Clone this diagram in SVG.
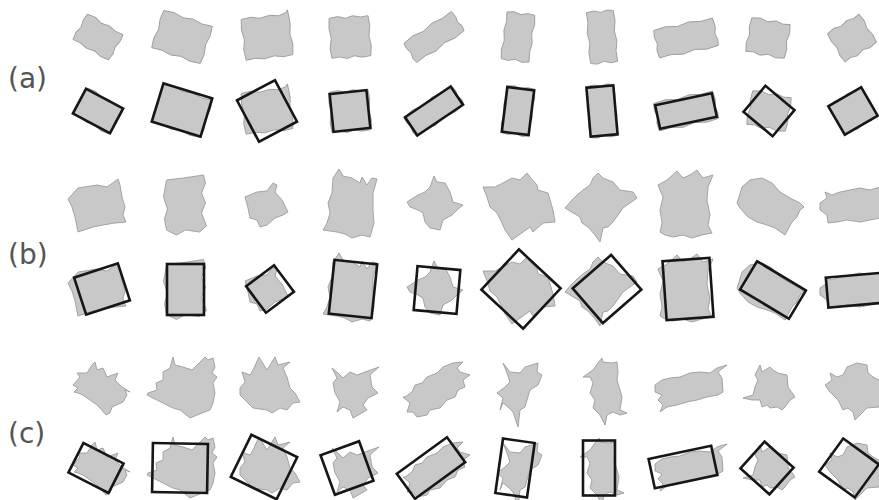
<svg xmlns="http://www.w3.org/2000/svg" width="879" height="500" viewBox="0 0 879 500">
<style>
.g{fill:#c8c8c8;stroke:#9c9c9c;stroke-width:0.9;stroke-linejoin:round}
.r{fill:none;stroke:#161616;stroke-width:2.6}
.lbl{font-family:"DejaVu Sans",sans-serif;font-size:28px;fill:#555}
</style>
<defs>
<polygon id="sa1" transform="rotate(30)" points="-20.5,-14.5 -12,-15.8 -4,-13.6 4,-15.2 12,-13.8 20.5,-14.5 21.3,-7 19.8,0 21.5,7 20.5,14.5 12,15.6 4,13.8 -4,15.5 -12,13.9 -20.5,14.5 -21.5,7 -19.6,0 -21.2,-7"/>
<polygon id="sa2" transform="rotate(18)" points="-25.5,-19.5 -15,-20.8 -5,-18.6 5,-20.4 15,-18.5 25.5,-19.5 26.4,-10 24.8,0 26.5,10 25.5,19.5 15,20.6 5,18.7 -5,20.6 -15,18.8 -25.5,19.5 -26.5,10 -24.6,0 -26.3,-10"/>
<polygon id="sa3" transform="rotate(-7)" points="-23.5,-20.5 -14,-21.6 -5,-19.5 5,-21.2 14,-19.7 22,-22 23.5,-24.5 24,-20.5 24.6,-10 23,0 24.8,10 23.5,20.5 14,21.6 5,19.6 -5,21.4 -14,19.8 -23.5,20.5 -24.6,10 -22.8,0 -24.4,-10"/>
<polygon id="sa4" transform="rotate(-4)" points="-19.5,-20 -11,-21.2 -3,-19 4,-21 12,-19.3 19.5,-20 20.5,-10 19,0 20.6,10 19.5,20 11,21 3,19 -4,21.2 -12,19.2 -19.5,20 -20.6,10 -18.8,0 -20.4,-10"/>
<polygon id="sa5" transform="rotate(-34)" points="-28.5,-11.5 -17,-12.8 -6,-10.6 6,-12.6 17,-10.8 28.5,-11.5 29.4,-5 27.8,1 29.5,6 28.5,11.5 17,12.6 6,10.6 -6,12.8 -17,10.7 -28.5,11.5 -29.5,6 -27.8,0 -29.3,-6"/>
<polygon id="sa6" transform="rotate(7)" points="-14,-23.5 -7,-24.6 0,-22.6 7,-24.4 14,-23.5 15,-14 13.2,-5 14.8,5 13.3,14 14,23.5 7,24.7 0,22.5 -7,24.4 -14,23.5 -15,14 -13.2,5 -14.8,-5 -13.2,-14"/>
<polygon id="sa7" transform="rotate(-5)" points="-13.5,-25.5 -6,-26.6 1,-24.6 7,-26.4 13.5,-25.5 14.4,-15 12.8,-5 14.5,5 12.8,15 13.5,25.5 7,26.5 0,24.4 -7,26.6 -13.5,25.5 -14.5,15 -12.7,5 -14.4,-5 -12.8,-15"/>
<polygon id="sa8" transform="rotate(-12)" points="-30,-14 -18,-15.3 -6,-13 6,-15.2 18,-13.2 30,-14 31,-5 29.2,2 30.8,8 30,14 18,15.2 6,13 -6,15.3 -18,13.1 -30,14 -31,6 -29.2,0 -30.8,-7"/>
<polygon id="sa9" transform="rotate(10)" points="-19.5,-17 -11,-18.3 -3,-16 5,-18.2 12,-16.2 19.5,-17 20.5,-8 18.8,0 20.4,8 19.5,17 11,18.2 3,16 -5,18.3 -12,16.2 -19.5,17 -20.6,8 -18.8,0 -20.3,-8"/>
<polygon id="sa10" transform="rotate(-32)" points="-18.5,-16.5 -10,-17.8 -3,-15.6 5,-17.6 12,-15.7 18.5,-16.5 19.5,-8 17.8,0 19.4,8 18.5,16.5 10,17.7 3,15.6 -5,17.8 -12,15.6 -18.5,16.5 -19.5,8 -17.8,0 -19.3,-8"/>

<polygon id="sb1" points="-34,-6 -24,-17 -5,-20 5,-18 16,-26 18,-20 20,-8 23,2 21,10 24,17 13,18 1,20 -9,22 -24,27 -27,12 -30,2"/>
<polygon id="sb2" points="-19,-25 -2,-27 18,-30 20,-22 16,-12 20,-2 16,8 21,21 14,27 0,25 -9,30 -19,25 -21,14 -18,4 -22,-8"/>
<polygon id="sb3" points="-25,-8 -13,-13 -3,-14 3,-22 7,-20 5,-13 12,-5 18,7 13,10 5,13 -3,20 -10,22 -13,15 -20,13 -22,3"/>
<polygon id="sb4" points="-20,-27 -14,-36 -10,-29 -1,-27 7,-22 9,-28 14,-20 19,-27 24,-26 20,-12 20,5 21,18 17,32 9,30 -1,33 -8,29 -16,27 -30,25 -26,18 -23,8 -25,-2 -21,-12"/>
<polygon id="sb5" points="-30,-3 -19,-10 -12,-13 -7,-18 -3,-29 0,-23 8,-22 13,-13 16,-3 26,0 20,5 15,10 6,15 3,25 -7,23 -12,17 -14,8 -19,5 -27,2"/>
<polygon id="sb6" points="-38,-18 -26,-18 -18,-22 -9,-27 -1,-25 6,-32 9,-28 16,-20 17,-15 27,-12 32,5 34,17 22,18 12,27 9,22 2,27 -9,35 -16,25 -19,18 -24,8 -31,2 -34,-8"/>
<polygon id="sb7" points="-8,-32 -3,-27 7,-23 14,-15 27,-13 31,-7 24,-2 17,3 12,10 7,17 2,22 -3,23 -6,37 -11,30 -18,22 -24,18 -26,12 -41,3 -34,-5 -29,-10 -23,-15 -16,-20 -13,-27"/>
<polygon id="sb8" points="-30,-20 -21,-25 -11,-34 -5,-27 2,-30 9,-35 15,-27 25,-30 20,-18 19,-5 22,10 20,20 24,28 14,30 4,33 -5,30 -15,32 -23,30 -28,27 -26,18 -28,5 -25,-8"/>
<polygon id="sb9" points="-31,-18 -23,-25 -11,-27 -1,-22 7,-13 17,-7 27,-2 31,2 27,5 24,12 19,17 12,30 2,23 -6,20 -16,17 -25,12 -33,3 -36,-2 -34,-8"/>
<polygon id="sb10" points="-37,-2 -30,-7 -32,-13 -25,-10 -17,-13 -7,-15 3,-17 13,-15 23,-18 30,-15 32,15 23,13 13,15 3,17 -10,15 -20,17 -29,18 -30,10 -37,5"/>

<polygon id="sc1" points="-23,-3 -16,-11 -19,-15 -9,-15 -4,-23 -1,-26 1,-18 7,-20 11,-11 22,-15 19,-8 26,-1 34,4 29,2 31,7 27,14 16,19 14,25 10,27 4,20 1,17 -6,12 -13,7 -18,5 -22,4 -18,0"/>
<polygon id="sc2" points="-32,5 -23,2 -24,-5 -17,-8 -17,-16 -10,-20 -7,-31 -5,-23 3,-21 12,-18 20,-26 25,-31 28,-28 33,-30 35,-21 32,-15 37,-11 33,-5 35,5 33,15 30,22 22,25 10,30 0,22 -7,20 -13,17 -23,12 -33,7"/>
<polygon id="sc3" points="-24,1 -19,-5 -22,-15 -14,-12 -11,-17 -5,-30 3,-17 11,-30 14,-22 26,-25 19,-19 23,-10 26,1 31,6 36,15 29,16 23,23 16,21 8,26 3,23 -11,21 -17,15 -24,8"/>
<polygon id="sc4" points="-15,-20 -9,-15 -4,-10 3,-16 10,-13 18,-16 32,-21 23,-13 25,-1 31,5 21,10 16,17 20,22 6,30 3,22 -4,19 -10,24 -7,14 -12,5 -14,-5 -10,-10"/>
<polygon id="sc5" points="-26,9 -19,4 -16,-3 -9,-5 -4,-11 6,-15 12,-21 22,-25 32,-26 26,-20 29,-16 39,-13 32,-8 34,-1 27,2 24,9 16,12 9,20 -1,22 -4,27 -14,29 -18,24 -24,24 -21,15 -28,9"/>
<polygon id="sc6" points="-12,-25 -5,-16 5,-15 10,-21 23,-25 22,-16 27,-13 23,-3 15,2 12,12 10,19 5,22 3,39 -2,24 -7,19 -12,15 -15,22 -12,10 -18,5 -10,-1 -5,-6 -8,-15"/>
<polygon id="sc7" points="0,-30 1,-26 10,-25 15,-26 16,-16 15,-8 18,2 20,9 18,22 25,25 18,27 11,24 5,27 3,37 -2,27 -9,20 -7,12 -12,5 -9,-5 -12,-11 -19,-11 -9,-18 -4,-25"/>
<polygon id="sc8" points="-28,-3 -21,-8 -13,-10 -3,-11 7,-15 17,-16 27,-15 34,-20 44,-23 35,-16 39,-10 40,4 35,7 24,9 14,12 4,14 -6,17 -16,19 -23,24 -20,17 -25,12 -21,7 -28,4"/>
<polygon id="sc9" points="-7,-23 -5,-16 3,-21 6,-18 11,-15 20,-13 21,-1 28,9 23,12 18,19 15,22 10,19 3,20 0,17 -5,19 -7,12 -15,12 -24,10 -14,7 -12,-1 -9,-8 -12,-13"/>
<polygon id="sc10" points="-19,-15 -12,-11 -6,-13 -2,-21 8,-25 18,-23 19,-15 24,-11 30,-8 33,2 30,19 18,20 13,25 6,32 4,24 -1,20 -6,22 -11,12 -16,7 -19,4 -24,-3 -21,-5 -17,-8"/>
</defs>

<rect width="879" height="500" fill="#fff"/>

<g id="labels">
<text class="lbl" x="8" y="88">(a)</text>
<text class="lbl" x="8" y="264">(b)</text>
<text class="lbl" x="8" y="443">(c)</text>
</g>

<g id="a1"><use class="g" href="#sa1" x="98" y="37"/><use class="g" href="#sa1" x="98" y="111"/><rect class="r" x="-21" y="-14" width="42" height="28" transform="translate(98,111) rotate(28)"/></g>
<g id="a2"><use class="g" href="#sa2" x="182" y="37"/><use class="g" href="#sa2" x="182" y="111"/><rect class="r" x="-25.5" y="-20" width="51" height="40" transform="translate(182,110) rotate(17)"/></g>
<g id="a3"><use class="g" href="#sa3" x="267" y="37"/><use class="g" href="#sa3" x="267" y="111"/><rect class="r" x="-21.5" y="-23.5" width="43" height="47" transform="translate(267,111) rotate(-28)"/></g>
<g id="a4"><use class="g" href="#sa4" x="350" y="37"/><use class="g" href="#sa4" x="350" y="111"/><rect class="r" x="-18.5" y="-19" width="37" height="38" transform="translate(350,111) rotate(-6)"/></g>
<g id="a5"><use class="g" href="#sa5" x="434" y="37"/><use class="g" href="#sa5" x="434" y="111"/><rect class="r" x="-27.5" y="-11" width="55" height="22" transform="translate(434,111) rotate(-34)"/></g>
<g id="a6"><use class="g" href="#sa6" x="518" y="37"/><use class="g" href="#sa6" x="518" y="111"/><rect class="r" x="-13.5" y="-22.5" width="27" height="45" transform="translate(518,111) rotate(7)"/></g>
<g id="a7"><use class="g" href="#sa7" x="602" y="37"/><use class="g" href="#sa7" x="602" y="111"/><rect class="r" x="-13.5" y="-24.5" width="27" height="49" transform="translate(602,111) rotate(-5)"/></g>
<g id="a8"><use class="g" href="#sa8" x="686" y="38"/><use class="g" href="#sa8" x="686" y="111"/><rect class="r" x="-29" y="-12" width="58" height="24" transform="translate(686,111) rotate(-12)"/></g>
<g id="a9"><use class="g" href="#sa9" x="768" y="38"/><use class="g" href="#sa9" x="769" y="111"/><rect class="r" x="-19" y="-17" width="38" height="34" transform="translate(769,111) rotate(40)"/></g>
<g id="a10"><use class="g" href="#sa10" x="852" y="38"/><use class="g" href="#sa10" x="853" y="111"/><rect class="r" x="-19" y="-16.5" width="38" height="33" transform="translate(853,111) rotate(-30)"/></g>

<g id="b1"><use class="g" href="#sb1" x="102" y="205"/><use class="g" href="#sb1" x="102" y="289"/><rect class="r" x="-23" y="-19.5" width="46" height="39" transform="translate(102,289) rotate(-18)"/></g>
<g id="b2"><use class="g" href="#sb2" x="185.5" y="205"/><use class="g" href="#sb2" x="185.5" y="289.5"/><rect class="r" x="-18.5" y="-25.5" width="37" height="51" transform="translate(185.5,289.5)"/></g>
<g id="b3"><use class="g" href="#sb3" x="270" y="205"/><use class="g" href="#sb3" x="270" y="289"/><rect class="r" x="-17.5" y="-16.5" width="35" height="33" transform="translate(270,289) rotate(-37)"/></g>
<g id="b4"><use class="g" href="#sb4" x="353" y="205"/><use class="g" href="#sb4" x="353" y="289"/><rect class="r" x="-21.5" y="-27" width="43" height="54" transform="translate(353,289) rotate(6)"/></g>
<g id="b5"><use class="g" href="#sb5" x="437" y="205"/><use class="g" href="#sb5" x="437" y="290"/><rect class="r" x="-21.5" y="-22" width="43" height="44" transform="translate(437,290) rotate(5)"/></g>
<g id="b6"><use class="g" href="#sb6" x="521" y="205"/><use class="g" href="#sb6" x="521" y="289"/><rect class="r" x="-28.5" y="-27.5" width="57" height="55" transform="translate(521,289) rotate(43)"/></g>
<g id="b7"><use class="g" href="#sb7" x="606" y="205"/><use class="g" href="#sb7" x="606" y="289"/><rect class="r" x="-23" y="-25.5" width="46" height="51" transform="translate(607,289) rotate(49)"/></g>
<g id="b8"><use class="g" href="#sb8" x="688" y="205"/><use class="g" href="#sb8" x="688" y="289"/><rect class="r" x="-23.5" y="-29.5" width="47" height="59" transform="translate(688,289) rotate(-4)"/></g>
<g id="b9"><use class="g" href="#sb9" x="773" y="205"/><use class="g" href="#sb9" x="773" y="290"/><rect class="r" x="-28.5" y="-16.5" width="57" height="33" transform="translate(773,290) rotate(31)"/></g>
<g id="b10"><use class="g" href="#sb10" x="857" y="205"/><use class="g" href="#sb10" x="857" y="290"/><rect class="r" x="-30" y="-15" width="60" height="30" transform="translate(857,290) rotate(-5)"/></g>

<g id="c1"><use class="g" href="#sc1" x="96" y="388"/><use class="g" href="#sc1" x="96" y="468"/><rect class="r" x="-22.5" y="-16.5" width="45" height="33" transform="translate(96,468) rotate(27)"/></g>
<g id="c2"><use class="g" href="#sc2" x="180" y="388"/><use class="g" href="#sc2" x="180" y="468"/><rect class="r" x="-27.5" y="-24.5" width="55" height="49" transform="translate(180,468) rotate(1)"/></g>
<g id="c3"><use class="g" href="#sc3" x="264" y="387"/><use class="g" href="#sc3" x="264" y="467"/><rect class="r" x="-25.5" y="-23.5" width="51" height="47" transform="translate(264,467) rotate(26)"/></g>
<g id="c4"><use class="g" href="#sc4" x="347" y="388"/><use class="g" href="#sc4" x="347" y="468"/><rect class="r" x="-20.5" y="-21" width="41" height="42" transform="translate(347,468) rotate(-20)"/></g>
<g id="c5"><use class="g" href="#sc5" x="431" y="388"/><use class="g" href="#sc5" x="431" y="468"/><rect class="r" x="-31" y="-15.5" width="62" height="31" transform="translate(431,468) rotate(-36)"/></g>
<g id="c6"><use class="g" href="#sc6" x="515" y="388"/><use class="g" href="#sc6" x="515" y="468"/><rect class="r" x="-16" y="-27.5" width="32" height="55" transform="translate(515,468) rotate(8)"/></g>
<g id="c7"><use class="g" href="#sc7" x="602" y="388"/><use class="g" href="#sc7" x="599" y="468"/><rect class="r" x="-16" y="-27.5" width="32" height="55" transform="translate(599,468)"/></g>
<g id="c8"><use class="g" href="#sc8" x="683" y="388"/><use class="g" href="#sc8" x="683" y="467"/><rect class="r" x="-32" y="-15" width="64" height="30" transform="translate(683,467) rotate(-12)"/></g>
<g id="c9"><use class="g" href="#sc9" x="767" y="388"/><use class="g" href="#sc9" x="767" y="468"/><rect class="r" x="-19.5" y="-18" width="39" height="36" transform="translate(767,468) rotate(42)"/></g>
<g id="c10"><use class="g" href="#sc10" x="849" y="388"/><use class="g" href="#sc10" x="849" y="468"/><rect class="r" x="-22" y="-20.5" width="44" height="41" transform="translate(849,468) rotate(36)"/></g>
</svg>
